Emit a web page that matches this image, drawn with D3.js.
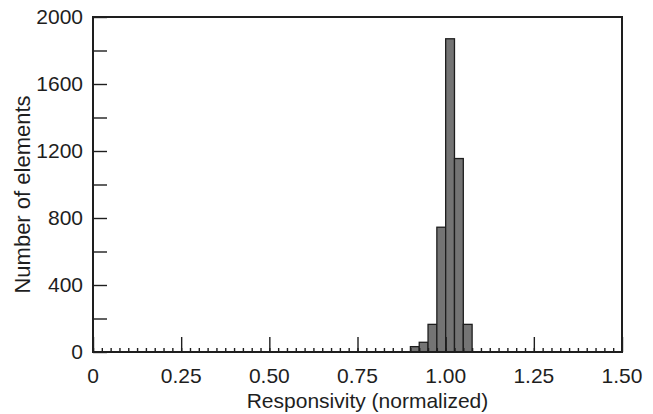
<!DOCTYPE html>
<html>
<head>
<meta charset="utf-8">
<script src="https://cdn.jsdelivr.net/npm/d3@7"></script>
<style>
  body { margin: 0; background: #fff; }
  text { font-family: "Liberation Sans", Arial, sans-serif; fill: #1e1e1e; }
</style>
</head>
<body>
<svg id="chart"></svg>
<script>
// histogram of normalized responsivity, bins of 0.025
const binStarts = [0.9, 0.925, 0.95, 0.975, 1.0, 1.025, 1.05]
const counts = [32, 58, 165, 745, 1870, 1155, 165]
const binWidth = 0.025

const xTicks = [0, 0.25, 0.5, 0.75, 1.0, 1.25, 1.5]
const xTickLabels = ["0", "0.25", "0.50", "0.75", "1.00", "1.25", "1.50"]
const yTicks = [0, 400, 800, 1200, 1600, 2000]

const width = 653, height = 414
const margin = { left: 93, right: 31, top: 17, bottom: 62 }

const svg = d3.select("#chart").attr("width", width).attr("height", height)

const x = d3.scaleLinear().domain([0, 1.5]).range([margin.left, width - margin.right])
const y = d3.scaleLinear().domain([0, 2000]).range([height - margin.bottom, margin.top])

const ink = "#1e1e1e"

// bars
svg.append("g")
  .selectAll("rect")
  .data(binStarts.map((b, i) => ({ x0: b, x1: b + binWidth, v: counts[i] })))
  .join("rect")
  .attr("x", d => x(d.x0))
  .attr("width", d => x(d.x1) - x(d.x0))
  .attr("y", d => y(d.v))
  .attr("height", d => y(0) - y(d.v))
  .attr("fill", "#747474")
  .attr("stroke", ink)
  .attr("stroke-width", 1.3)

// x axis: minor ticks every 0.025, majors every 0.25, drawn inward
const xAxisMinor = d3.axisTop(x).tickValues(d3.range(0, 60).map(i => i * 0.025)).tickSize(4).tickFormat("")
const xAxisMajor = d3.axisTop(x).tickValues(xTicks).tickSize(15).tickFormat("")
const gxMinor = svg.append("g").attr("transform", `translate(0,${y(0)})`).call(xAxisMinor)
const gxMajor = svg.append("g").attr("transform", `translate(0,${y(0)})`).call(xAxisMajor)
;[gxMinor, gxMajor].forEach(g => {
  g.select(".domain").remove()
  g.selectAll("line").attr("stroke", ink).attr("stroke-width", 1.4)
})

// y axis: ticks every 200 pointing inward
const yAxis = d3.axisRight(y).tickValues(d3.range(0, 2001, 200)).tickSize(14).tickFormat("")
const gy = svg.append("g").attr("transform", `translate(${x(0)},0)`).call(yAxis)
gy.select(".domain").remove()
gy.selectAll("line").attr("stroke", ink).attr("stroke-width", 1.4)

// frame
svg.append("rect")
  .attr("x", x(0)).attr("y", y(2000))
  .attr("width", x(1.5) - x(0)).attr("height", y(0) - y(2000))
  .attr("fill", "none").attr("stroke", ink).attr("stroke-width", 2)

// tick labels
svg.append("g").selectAll("text")
  .data(xTicks)
  .join("text")
  .attr("x", d => x(d))
  .attr("y", y(0) + 31)
  .attr("text-anchor", "middle")
  .attr("font-size", 21)
  .text((d, i) => xTickLabels[i])

svg.append("g").selectAll("text")
  .data(yTicks)
  .join("text")
  .attr("x", x(0) - 10)
  .attr("y", d => y(d) + 7)
  .attr("text-anchor", "end")
  .attr("font-size", 21)
  .text(d => d)

// axis titles
svg.append("text")
  .attr("x", (x(0) + x(1.5)) / 2 + 10)
  .attr("y", 408)
  .attr("text-anchor", "middle")
  .attr("font-size", 21)
  .text("Responsivity (normalized)")

svg.append("text")
  .attr("transform", `translate(30,${(y(0) + y(2000)) / 2 + 10}) rotate(-90)`)
  .attr("text-anchor", "middle")
  .attr("font-size", 22)
  .text("Number of elements")
</script>
</body>
</html>
